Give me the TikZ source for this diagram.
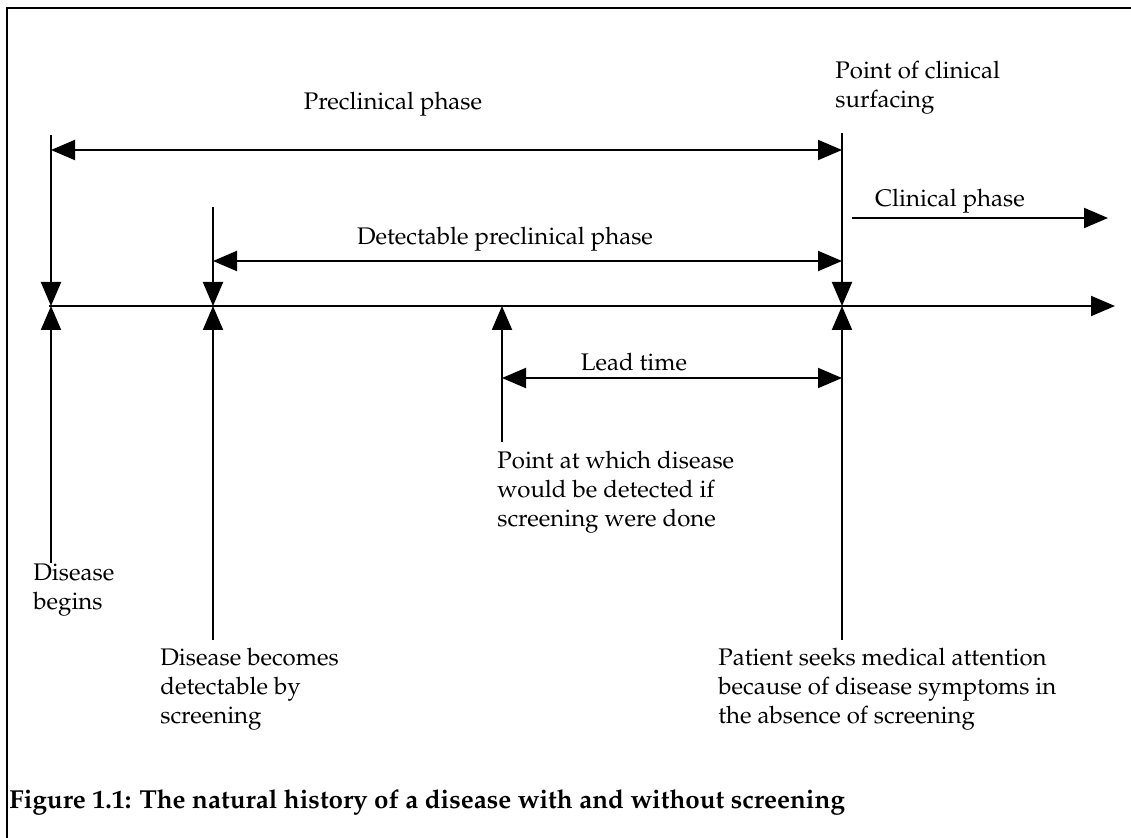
\documentclass[tikz,border=0pt]{standalone}
\usepackage[T1]{fontenc}
\usepackage{mathpazo}
\usetikzlibrary{arrows.meta}
\tikzset{
  frame/.style   = { line width=0.6pt, black },
  axis/.style    = { line width=1pt, black, -{Triangle[length=12pt,width=10pt]} },
  tick/.style    = { line width=1pt, black, -{Triangle[length=12pt,width=10pt]} },
  span/.style    = { line width=1pt, black, {Triangle[length=12pt,width=10pt]}-{Triangle[length=12pt,width=10pt]} },
  phase/.style   = { inner sep=0pt, anchor=base, font=\fontsize{12}{14.5}\selectfont },
  note/.style    = { inner sep=0pt, align=left, anchor=north west, font=\fontsize{12}{14.5}\selectfont },
  caption/.style = { inner sep=0pt, anchor=base west, font=\fontsize{13}{15.6}\selectfont\bfseries }
}

\begin{document}
\begin{tikzpicture}[x=0.5pt,y=-0.5pt]
  \useasboundingbox (0,0) rectangle (1131,838);
  % Draw frame
  \coordinate (fbot) at (7,838);
  \coordinate (fcorner) at (7,8);
  \coordinate (fright) at (1131,8);
  \draw[frame] (fbot) -- (fcorner) -- (fright);
  % Draw time axis
  \coordinate (start) at (49,306);
  \coordinate (end) at (1115,306);
  \coordinate (onset) at (51,306);
  \coordinate (detect) at (213,306);
  \coordinate (screen) at (502,306);
  \coordinate (surface) at (842,306);
  \draw[axis] (start) -- (end);
  % Draw ticks from above
  \coordinate (onsettop) at (onset |- 0,135);
  \coordinate (detecttop) at (detect |- 0,207);
  \coordinate (surfacetop) at (surface |- 0,133);
  \draw[tick] (onsettop) -- (onset);
  \draw[tick] (detecttop) -- (detect);
  \draw[tick] (surfacetop) -- (surface);
  % Draw ticks from below
  \coordinate (onsetbot) at (onset |- 0,563);
  \coordinate (detectbot) at (detect |- 0,640);
  \coordinate (screenbot) at (screen |- 0,442);
  \coordinate (surfacebot) at (surface |- 0,640);
  \draw[tick] (onsetbot) -- (onset);
  \draw[tick] (detectbot) -- (detect);
  \draw[tick] (screenbot) -- (screen);
  \draw[tick] (surfacebot) -- (surface);
  % Draw phases
  \coordinate (preL) at (onset |- 0,150);
  \coordinate (preR) at (surface |- 0,150);
  \coordinate (detL) at (detect |- 0,261);
  \coordinate (detR) at (surface |- 0,261);
  \coordinate (leadL) at (screen |- 0,378);
  \coordinate (leadR) at (surface |- 0,378);
  \coordinate (clinL) at (852,218);
  \coordinate (clinR) at (1108,218);
  \draw[span] (preL) -- (preR);
  \draw[span] (detL) -- (detR);
  \draw[span] (leadL) -- (leadR);
  \draw[axis] (clinL) -- (clinR);
  \node[phase] (prelab) at (393,110) {Preclinical phase};
  \node[phase] (detlab) at (505,245) {Detectable preclinical phase};
  \node[phase] (leadlab) at (634,371) {Lead time};
  \node[phase] (clinlab) at (950,207) {Clinical phase};
  % Draw notes
  \node[note] (surfnote) at (835,61) {Point of clinical\\surfacing};
  \node[note] (onsetnote) at (33,563) {Disease\\begins};
  \node[note] (screennote) at (497,451) {Point at which disease\\would be detected if\\screening were done};
  \node[note] (detnote) at (160,648) {Disease becomes\\detectable by\\screening};
  \node[note] (patnote) at (718,648) {Patient seeks medical attention\\because of disease symptoms in\\the absence of screening};
  \node[caption] (cap) at (9,809) {Figure 1.1: The natural history of a disease with and without screening};
\end{tikzpicture}
\end{document}
